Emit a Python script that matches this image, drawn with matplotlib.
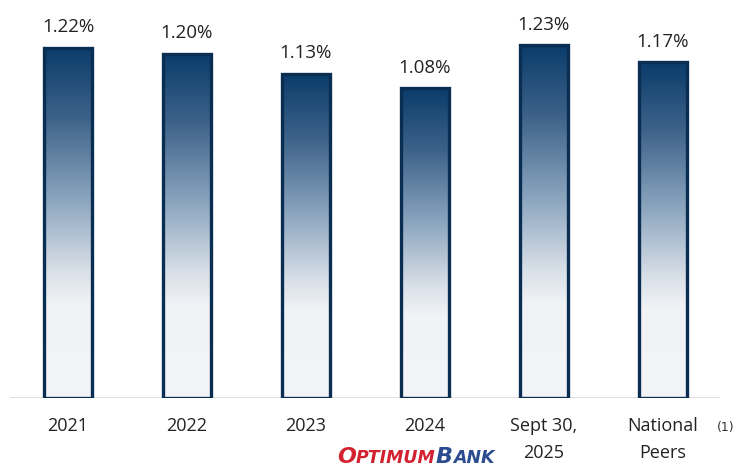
import matplotlib.pyplot as plt
import numpy as np
from matplotlib.colors import LinearSegmentedColormap

categories = ["2021", "2022", "2023", "2024", "Sept 30,\n2025", "National\nPeers"]
values = [1.22, 1.20, 1.13, 1.08, 1.23, 1.17]
value_labels = ["1.22%", "1.20%", "1.13%", "1.08%", "1.23%", "1.17%"]

grad = LinearSegmentedColormap.from_list(
    "bar", [(0.0, "#f3f4f7"), (0.27, "#f0f2f5"), (0.36, "#d9e0e8"),
            (0.57, "#8aa4be"), (0.8, "#3d6289"), (1.0, "#0b3c6b")])

fig = plt.figure(figsize=(7.36, 4.69), dpi=100)
ax = fig.add_axes([10 / 736, 71 / 469, 710 / 736, 373 / 469])

x = np.arange(len(categories))
bars = ax.bar(x, values, width=0.40, facecolor="none", edgecolor="#0a2d52",
              linewidth=2.4, zorder=3)

# gradient fill clipped to each bar
g = np.linspace(0, 1, 256).reshape(-1, 1)
for b in bars:
    x0, w, h = b.get_x(), b.get_width(), b.get_height()
    im = ax.imshow(g, cmap=grad, origin="lower", aspect="auto",
                   extent=[x0, x0 + w, 0, h], zorder=2)
    im.set_clip_path(b)

for xi, v, lab in zip(x, values, value_labels):
    ax.text(xi, v + 0.04, lab, ha="center", va="bottom", fontsize=13.5,
            color="#222222", family="Open Sans")

ax.set_xlim(-0.487, 5.48)
ax.set_ylim(0, 1.3)
ax.axhline(0, color="#d9d9d9", linewidth=1.2, zorder=1)
for s in ax.spines.values():
    s.set_visible(False)
ax.set_yticks([])
ax.set_xticks(x)
ax.set_xticklabels(categories, fontsize=13, color="#222222", family="Open Sans",
                   linespacing=1.6)
ax.tick_params(axis="x", length=0, pad=14)

fig.text(717 / 736, 1 - 427 / 469, "(1)", fontsize=9, color="#333333",
         ha="left", va="center")

# logo as text
parts = [("O", 16, "#d3222f"), ("PTIMUM", 12.5, "#d3222f"),
         ("B", 16, "#2b4c8f"), ("ANK", 12.5, "#2b4c8f")]
prev = None
for s, fs, c in parts:
    if prev is None:
        prev = fig.text(337 / 736, 1 - 463 / 469, s, fontsize=fs, color=c,
                        fontweight="bold", style="italic", family="DejaVu Sans",
                        ha="left", va="baseline")
    else:
        prev = ax.annotate(s, xy=(1, 0), xycoords=prev, fontsize=fs, color=c,
                           fontweight="bold", style="italic", family="DejaVu Sans",
                           ha="left", va="bottom", annotation_clip=False)

fig.savefig("out.png", dpi=100)
